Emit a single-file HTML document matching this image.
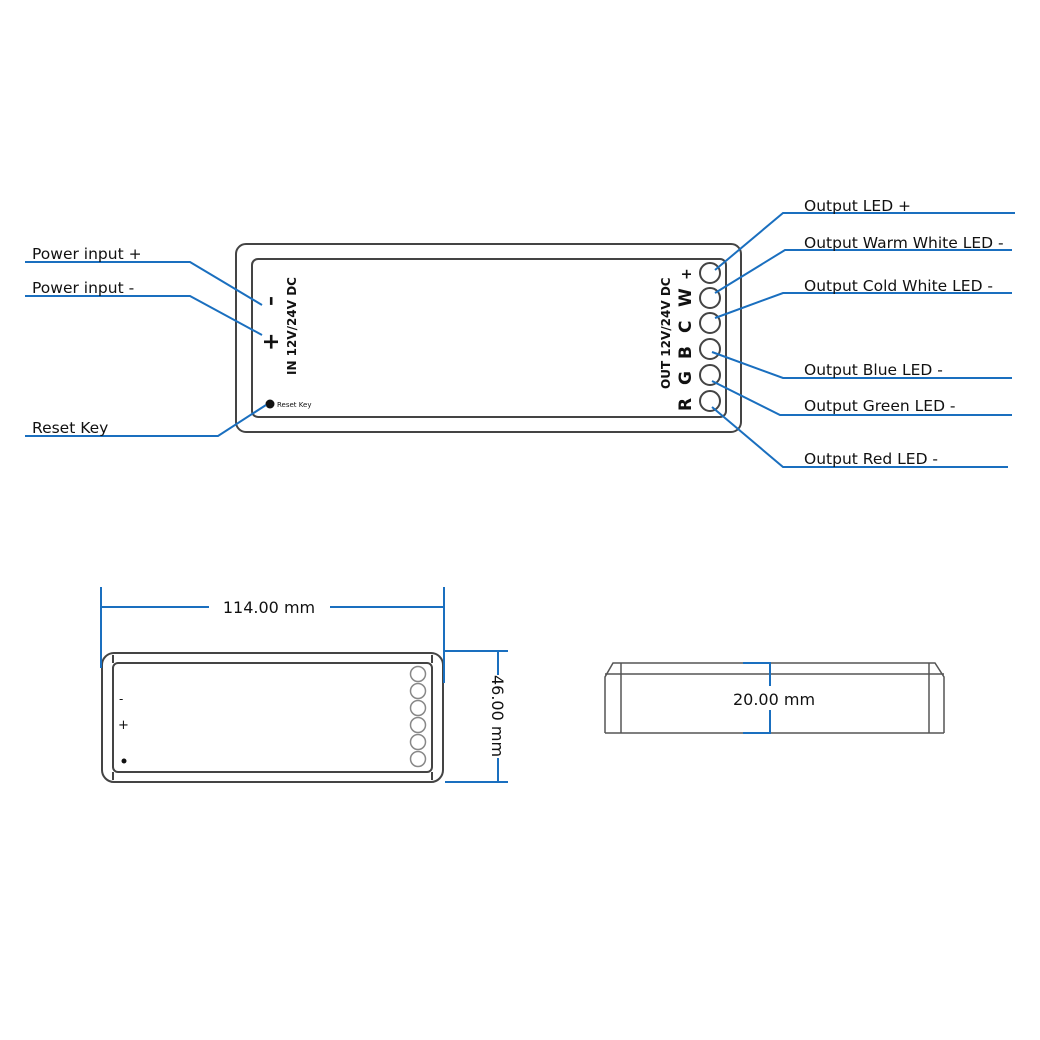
<!DOCTYPE html>
<html><head><style>body{margin:0;background:#fff}svg{display:block}text{font-family:"DejaVu Sans","Liberation Sans",sans-serif;fill:#111}</style></head>
<body>
<svg width="1040" height="1040" viewBox="0 0 1040 1040" xmlns="http://www.w3.org/2000/svg">
<g fill="none" stroke="#444" stroke-width="2">
<rect x="236" y="244" width="505" height="188" rx="10"/>
<rect x="252" y="259" width="474" height="158" rx="6"/>
<circle cx="710" cy="273" r="10"/><circle cx="710" cy="298" r="10"/><circle cx="710" cy="323" r="10"/>
<circle cx="710" cy="349" r="10"/><circle cx="710" cy="375" r="10"/><circle cx="710" cy="401" r="10"/>
</g>
<circle cx="270" cy="404" r="4.5" fill="#111"/>
<text x="277" y="407" font-size="7">Reset Key</text>
<text font-size="12" font-weight="bold" transform="translate(296,375) rotate(-90)">IN 12V/24V DC</text>
<text font-size="20" font-weight="bold" transform="translate(277,306) rotate(-90)">–</text>
<text font-size="22" font-weight="bold" transform="translate(278,351) rotate(-90)">+</text>
<text font-size="12" font-weight="bold" transform="translate(670,389) rotate(-90)">OUT 12V/24V DC</text>
<g font-size="17" font-weight="bold">
<text transform="translate(691,280) rotate(-90)" font-size="14">+</text>
<text transform="translate(691,307) rotate(-90)">W</text>
<text transform="translate(691,333) rotate(-90)">C</text>
<text transform="translate(691,359) rotate(-90)">B</text>
<text transform="translate(691,385) rotate(-90)">G</text>
<text transform="translate(691,411) rotate(-90)">R</text>
</g>
<g fill="none" stroke="#1a6fbf" stroke-width="2">
<polyline points="25,262 190,262 262,305"/>
<polyline points="25,296 190,296 262,335"/>
<polyline points="25,436 218,436 266,405"/>
<polyline points="715,270 783,213 1015,213"/>
<polyline points="715,293 785,250 1012,250"/>
<polyline points="715,318 783,293 1012,293"/>
<polyline points="712,352 783,378 1012,378"/>
<polyline points="712,381 780,415 1012,415"/>
<polyline points="712,407 783,467 1008,467"/>
</g>
<g font-size="15.5">
<text x="32" y="259">Power input +</text>
<text x="32" y="293">Power input -</text>
<text x="32" y="433">Reset Key</text>
<text x="804" y="211">Output LED +</text>
<text x="804" y="248">Output Warm White LED -</text>
<text x="804" y="291">Output Cold White LED -</text>
<text x="804" y="375">Output Blue LED -</text>
<text x="804" y="411">Output Green LED -</text>
<text x="804" y="464">Output Red LED -</text>
</g>
<g fill="none" stroke="#444" stroke-width="2">
<rect x="102" y="653" width="341" height="129" rx="12"/>
<rect x="113" y="663" width="319" height="109" rx="5"/>
<line x1="113" y1="655" x2="113" y2="663"/><line x1="432" y1="655" x2="432" y2="663"/>
<line x1="113" y1="772" x2="113" y2="780"/><line x1="432" y1="772" x2="432" y2="780"/>
</g>
<g fill="none" stroke="#888" stroke-width="1.5">
<circle cx="418" cy="674" r="7.5"/><circle cx="418" cy="691" r="7.5"/><circle cx="418" cy="708" r="7.5"/>
<circle cx="418" cy="725" r="7.5"/><circle cx="418" cy="742" r="7.5"/><circle cx="418" cy="759" r="7.5"/>
</g>
<text x="119" y="703" font-size="12">-</text>
<text x="118" y="729" font-size="13">+</text>
<circle cx="124" cy="761" r="2.5" fill="#111"/>
<g fill="none" stroke="#1a6fbf" stroke-width="2">
<line x1="101" y1="587" x2="101" y2="668"/><line x1="444" y1="587" x2="444" y2="683"/>
<line x1="101" y1="607" x2="209" y2="607"/><line x1="330" y1="607" x2="444" y2="607"/>
<line x1="445" y1="651" x2="508" y2="651"/><line x1="445" y1="782" x2="508" y2="782"/>
<line x1="498" y1="651" x2="498" y2="675"/><line x1="498" y1="758" x2="498" y2="782"/>
</g>
<text x="269" y="613" font-size="16" text-anchor="middle">114.00 mm</text>
<text font-size="16" text-anchor="middle" transform="translate(492,716) rotate(90)">46.00 mm</text>
<g fill="none" stroke="#555" stroke-width="1.5">
<polyline points="605,733 605,677 613,663 935,663 944,677 944,733"/>
<line x1="605" y1="733" x2="944" y2="733"/>
<line x1="605" y1="674" x2="944" y2="674"/>
<line x1="621" y1="663" x2="621" y2="733"/><line x1="929" y1="663" x2="929" y2="733"/>
</g>
<g fill="none" stroke="#1a6fbf" stroke-width="2">
<polyline points="743,663 770,663 770,686"/>
<polyline points="770,710 770,733 743,733"/>
</g>
<text x="774" y="705" font-size="16" text-anchor="middle">20.00 mm</text>
</svg>
</body></html>
